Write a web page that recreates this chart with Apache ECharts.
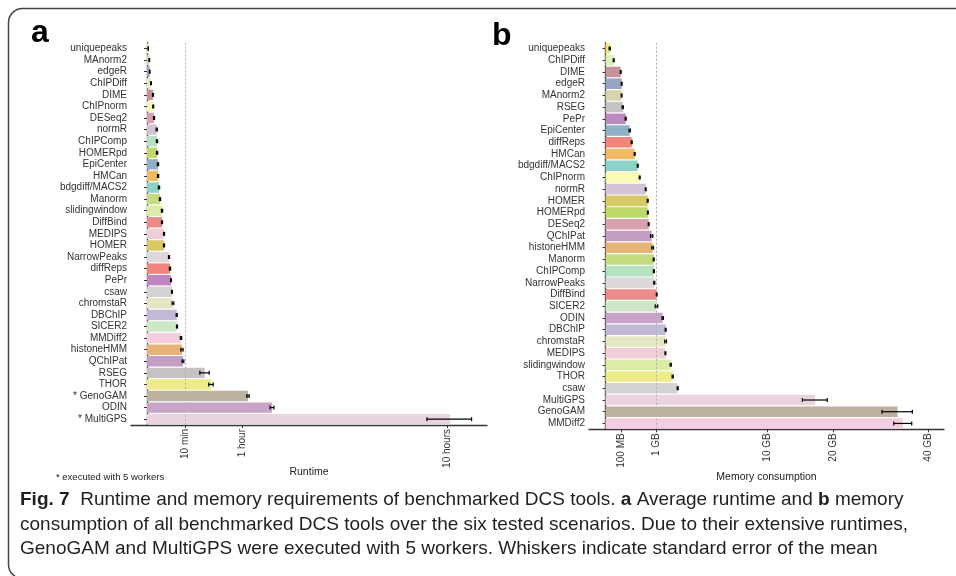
<!DOCTYPE html>
<html>
<head>
<meta charset="utf-8">
<script src="https://cdn.jsdelivr.net/npm/echarts@6/dist/echarts.min.js"></script>
<style>
html, body { margin: 0; padding: 0; background: #fff; }
#chart { width: 956px; height: 576px; }
</style>
</head>
<body>
<div id="chart"></div>
<script>
// a: runtime in minutes, tools from top to bottom
var runtimeTools = ['uniquepeaks', 'MAnorm2', 'edgeR', 'ChIPDiff', 'DIME', 'ChIPnorm', 'DESeq2', 'normR',
    'ChIPComp', 'HOMERpd', 'EpiCenter', 'HMCan', 'bdgdiff/MACS2', 'Manorm', 'slidingwindow', 'DiffBind',
    'MEDIPS', 'HOMER', 'NarrowPeaks', 'diffReps', 'PePr', 'csaw', 'chromstaR', 'DBChIP', 'SICER2', 'MMDiff2',
    'histoneHMM', 'QChIPat', 'RSEG', 'THOR', '* GenoGAM', 'ODIN', '* MultiGPS'];
var runtimeMean = [0.01, 0.035, 0.05, 0.107, 0.24, 0.26, 0.33, 0.63,
    0.67, 0.68, 0.81, 0.82, 0.96, 1.13, 1.5, 1.5,
    1.93, 1.93, 3.23, 3.53, 3.84, 4.16, 4.5, 5.88, 6.0, 7.7,
    8.16, 8.64, 22.2, 27.3, 68.0, 104.1, 612];
var runtimeSE = [0.003, 0.01, 0.01, 0.02, 0.04, 0.04, 0.05, 0.08,
    0.08, 0.08, 0.09, 0.09, 0.1, 0.1, 0.12, 0.1,
    0.12, 0.12, 0.15, 0.18, 0.15, 0.15, 0.3, 0.2, 0.2, 0.3,
    0.5, 0.4, 3.6, 1.9, 1.5, 3.3, 90];
var runtimeTicks = [10, 60, 600];
var runtimeTickLabels = ['10 min', '1 hour', '10 hours'];

// b: memory in GB
var memoryTools = ['uniquepeaks', 'ChIPDiff', 'DIME', 'edgeR', 'MAnorm2', 'RSEG', 'PePr', 'EpiCenter',
    'diffReps', 'HMCan', 'bdgdiff/MACS2', 'ChIPnorm', 'normR', 'HOMER', 'HOMERpd', 'DESeq2', 'QChIPat',
    'histoneHMM', 'Manorm', 'ChIPComp', 'NarrowPeaks', 'DiffBind', 'SICER2', 'ODIN', 'DBChIP', 'chromstaR',
    'MEDIPS', 'slidingwindow', 'THOR', 'csaw', 'MultiGPS', 'GenoGAM', 'MMDiff2'];
var memoryMean = [0.007, 0.026, 0.089, 0.101, 0.10, 0.114, 0.157, 0.225,
    0.264, 0.328, 0.399, 0.45, 0.621, 0.685, 0.69, 0.717, 0.82,
    0.856, 0.893, 0.90, 0.916, 1.008, 1.0, 1.258, 1.393, 1.39,
    1.38, 1.634, 1.736, 2.004, 16.9, 32.8, 34.0];
var memorySE = [0.002, 0.003, 0.005, 0.005, 0.005, 0.008, 0.008, 0.012,
    0.01, 0.01, 0.012, 0.012, 0.012, 0.015, 0.015, 0.015, 0.04,
    0.03, 0.02, 0.02, 0.02, 0.015, 0.05, 0.03, 0.02, 0.04,
    0.02, 0.03, 0.03, 0.03, 2.0, 3.4, 2.05];
var memoryTicks = [0.1, 1, 10, 20, 40];
var memoryTickLabels = ['100 MB', '1 GB', '10 GB', '20 GB', '40 GB'];

// one colour per tool, same in both panels
var toolColors = {
    'uniquepeaks': '#f8e76c', 'MAnorm2': '#d9d4ad', 'edgeR': '#99a6c3', 'ChIPDiff': '#ddf0b9',
    'DIME': '#c4939b', 'ChIPnorm': '#fbfab4', 'DESeq2': '#d7a2ae', 'normR': '#d3c4d5',
    'ChIPComp': '#b4e2c3', 'HOMERpd': '#bfd86a', 'EpiCenter': '#8fb1c5', 'HMCan': '#f2ba63',
    'bdgdiff/MACS2': '#8dd3c7', 'Manorm': '#c3dc7f', 'slidingwindow': '#ddeba9', 'DiffBind': '#eb8c8a',
    'MEDIPS': '#f2cfd8', 'HOMER': '#d9c866', 'NarrowPeaks': '#dcd8dc', 'diffReps': '#f0857b',
    'PePr': '#bf87bf', 'csaw': '#d3d3d3', 'chromstaR': '#e6e5c4', 'DBChIP': '#c2b8d7',
    'SICER2': '#cde7c7', 'MMDiff2': '#f3cde0', 'histoneHMM': '#e6b479', 'QChIPat': '#c39ec2',
    'RSEG': '#c6c2c1', 'THOR': '#eeec8a', 'GenoGAM': '#bcb29e', 'ODIN': '#c9a3c8', 'MultiGPS': '#ead4df'
};

var axisColor = '#333';
var textColor = '#333';
var fontFam = '"Liberation Sans", Arial, sans-serif';

function barData(tools, means) {
    return means.map(function (m, i) {
        var name = tools[i].replace('* ', '');
        return {value: Math.sqrt(m), itemStyle: {color: toolColors[name]}};
    });
}

function tickLabel(ticks, labels) {
    return function (v) {
        for (var i = 0; i < ticks.length; i++) {
            if (Math.abs(Math.sqrt(ticks[i]) - v) < 1e-6) return labels[i];
        }
        return '';
    };
}

// sqrt scale: values are plotted as sqrt(x), ticks placed at sqrt of the tick values
function xAxisFor(idx, ticks, labels, min, max, title) {
    var vals = ticks.map(Math.sqrt);
    return {
        type: 'value', gridIndex: idx, min: min, max: max,
        axisLine: {show: true, lineStyle: {color: axisColor, width: 1.3}},
        axisTick: {show: true, length: 3, customValues: vals, lineStyle: {color: axisColor}},
        axisLabel: {customValues: vals, rotate: 90, margin: 4, fontSize: 10, color: textColor,
            fontFamily: fontFam, formatter: tickLabel(ticks, labels)},
        splitLine: {show: false},
        name: title, nameLocation: 'middle', nameGap: 42, nameMoveOverlap: false,
        nameTextStyle: {fontSize: 10.5, color: '#222', fontFamily: fontFam}
    };
}

function yAxisFor(idx, tools) {
    return {
        type: 'category', gridIndex: idx, data: tools, inverse: true,
        axisLine: {show: true, lineStyle: {color: axisColor, width: 1.3}},
        axisTick: {show: true, length: 3, alignWithLabel: true, lineStyle: {color: axisColor}},
        axisLabel: {interval: 0, margin: 4, fontSize: 10, color: textColor, fontFamily: fontFam},
        splitLine: {show: false}
    };
}

function barSeries(idx, tools, means, refLine) {
    return {
        type: 'bar', xAxisIndex: idx, yAxisIndex: idx,
        barCategoryGap: '10%',
        data: barData(tools, means),
        markLine: {
            silent: true, symbol: 'none', label: {show: false}, z: 4,
            lineStyle: {type: [2, 2], color: '#b0b0b0', width: 1},
            data: [{xAxis: Math.sqrt(refLine)}]
        }
    };
}

function errorSeries(idx, means, se) {
    return {
        type: 'custom', xAxisIndex: idx, yAxisIndex: idx, z: 5,
        data: means.map(function (m, i) {
            return [i, Math.sqrt(Math.max(m - se[i], 0)), Math.sqrt(m + se[i])];
        }),
        encode: {x: [1, 2], y: 0},
        renderItem: function (params, api) {
            var y = api.value(0);
            var p1 = api.coord([api.value(1), y]);
            var p2 = api.coord([api.value(2), y]);
            var h = 2;
            var st = {stroke: '#000', lineWidth: 1.2};
            return {
                type: 'group', children: [
                    {type: 'line', shape: {x1: p1[0], y1: p1[1], x2: p2[0], y2: p2[1]}, style: st},
                    {type: 'line', shape: {x1: p1[0], y1: p1[1] - h, x2: p1[0], y2: p1[1] + h}, style: st},
                    {type: 'line', shape: {x1: p2[0], y1: p2[1] - h, x2: p2[0], y2: p2[1] + h}, style: st}
                ]
            };
        }
    };
}

var capFont = '19px "Liberation Sans", Arial, sans-serif';
var capRich = {b: {fontWeight: 'bold', fontSize: 19, fontFamily: fontFam, fill: '#231f20'}};
function captionLine(text, y) {
    return {
        type: 'text', left: 20, top: y, silent: true,
        style: {text: text, font: capFont, fill: '#231f20', rich: capRich}
    };
}

var myChart = echarts.init(document.getElementById('chart'));
var option = {
    animation: false,
    grid: [
        {left: 131, top: 42.7, width: 356, height: 382.3},
        {left: 589, top: 42.7, width: 355, height: 386.6}
    ],
    xAxis: [
        xAxisFor(0, runtimeTicks, runtimeTickLabels, -1.306, 27.755, 'Runtime'),
        xAxisFor(1, memoryTicks, memoryTickLabels, -0.3235, 6.637, 'Memory consumption')
    ],
    yAxis: [
        yAxisFor(0, runtimeTools),
        yAxisFor(1, memoryTools)
    ],
    series: [
        barSeries(0, runtimeTools, runtimeMean, 10),
        errorSeries(0, runtimeMean, runtimeSE),
        barSeries(1, memoryTools, memoryMean, 1),
        errorSeries(1, memoryMean, memorySE)
    ],
    graphic: [
        {type: 'rect', silent: true, shape: {x: 8.5, y: 8.5, width: 1000, height: 570, r: 14},
            style: {fill: 'none', stroke: '#444', lineWidth: 1.5}},
        {type: 'text', left: 31, top: 17, silent: true,
            style: {text: 'a', font: 'bold 32px "Liberation Sans", Arial, sans-serif', fill: '#000'}},
        {type: 'text', left: 492, top: 20, silent: true,
            style: {text: 'b', font: 'bold 32px "Liberation Sans", Arial, sans-serif', fill: '#000'}},
        {type: 'text', left: 56, top: 472, silent: true,
            style: {text: '* executed with 5 workers', font: '9.5px "Liberation Sans", Arial, sans-serif', fill: '#222'}},
        captionLine('{b|Fig. 7}  Runtime and memory requirements of benchmarked DCS tools. {b|a} Average runtime and {b|b} memory', 490),
        captionLine('consumption of all benchmarked DCS tools over the six tested scenarios. Due to their extensive runtimes,', 515),
        captionLine('GenoGAM and MultiGPS were executed with 5 workers. Whiskers indicate standard error of the mean', 539)
    ]
};
myChart.setOption(option);
</script>
</body>
</html>
